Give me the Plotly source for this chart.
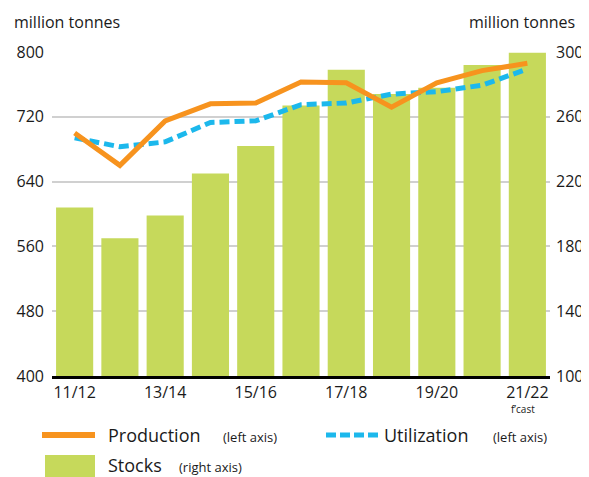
import plotly.graph_objects as go

categories = ["11/12", "12/13", "13/14", "14/15", "15/16", "16/17", "17/18", "18/19", "19/20", "20/21", "21/22"]
tick_labels = ["11/12", "", "13/14", "", "15/16", "", "17/18", "", "19/20", "", "21/22"]
stocks = [204, 185, 199, 225, 242, 267, 289, 274, 278, 292, 299.5]
production = [700, 660, 715, 736, 737, 763, 762, 732, 762, 777, 786]
utilization = [694, 683, 689, 713, 715, 735, 737, 748, 751, 759, 779]

GREEN = "#c6d95b"
ORANGE = "#f7931e"
BLUE = "#1cb8ec"
FONT = "Open Sans"

# The page body adds an 8px offset; the figure is sized so that it fills the window.
OFF = 8
W, H = 589 - OFF, 477 - OFF
L, R, T, B = 52 - OFF, 39, 52 - OFF, 101
PW, PH = W - L - R, H - T - B

def px(x):
    return (x - OFF - L) / PW

def py(y):
    return (H - B - (y - OFF)) / PH

fig = go.Figure()
fig.add_trace(go.Bar(x=categories, y=stocks, marker=dict(color=GREEN, line=dict(width=0)),
                     yaxis="y", name="Stocks", showlegend=False))
fig.add_trace(go.Scatter(x=categories, y=utilization, mode="lines", yaxis="y2",
                         line=dict(color=BLUE, width=5, dash="10px,5px"), name="Utilization", showlegend=False))
fig.add_trace(go.Scatter(x=categories, y=production, mode="lines", yaxis="y2",
                         line=dict(color=ORANGE, width=5), name="Production", showlegend=False))

fig.update_layout(
    width=W, height=H,
    margin=dict(l=L, r=R, t=T, b=B, autoexpand=False),
    paper_bgcolor="white", plot_bgcolor="white",
    font=dict(family=FONT, size=16, color="#1a1a1a"),
    bargap=0.18,
    xaxis=dict(type="category", range=[-0.5, 10.5], tickmode="array",
               tickvals=categories, ticktext=tick_labels, showgrid=False,
               showline=True, linecolor="black", linewidth=3, ticks="",
               tickfont=dict(size=16), ticklabelstandoff=0),
    yaxis=dict(side="right", range=[100, 300], tickvals=[100, 140, 180, 220, 260, 300],
               showgrid=True, gridcolor="#d0d0d0", gridwidth=1.5, zeroline=False,
               ticks="", tickfont=dict(size=16), ticklabelstandoff=5),
    yaxis2=dict(side="left", overlaying="y", range=[400, 800],
                tickvals=[400, 480, 560, 640, 720, 800], showgrid=False, zeroline=False,
                ticks="", tickfont=dict(size=16), ticklabelstandoff=7),
)

annotations = [
    dict(text="million tonnes", x=12, y=22, xanchor="left", size=16),
    dict(text="million tonnes", x=577, y=22, xanchor="right", size=16),
    dict(text="f’cast", x=523, y=409, xanchor="center", size=10),
    dict(text="Production", x=106, y=435, xanchor="left", size=18),
    dict(text="(left axis)", x=221, y=437, xanchor="left", size=13),
    dict(text="Utilization", x=382, y=435, xanchor="left", size=18),
    dict(text="(left axis)", x=491, y=437, xanchor="left", size=13),
    dict(text="Stocks", x=106, y=465, xanchor="left", size=18),
    dict(text="(right axis)", x=177, y=467, xanchor="left", size=13),
]
for a in annotations:
    fig.add_annotation(text=a["text"], xref="paper", yref="paper",
                       x=px(a["x"]), y=py(a["y"]), xanchor=a["xanchor"], yanchor="middle",
                       showarrow=False, font=dict(size=a.get("size", 16), family=FONT, color="#1a1a1a"))

shapes = [
    dict(type="line", x0=px(42), x1=px(95), y0=py(435), y1=py(435),
         line=dict(color=ORANGE, width=6)),
    dict(type="line", x0=px(326), x1=px(378), y0=py(435), y1=py(435),
         line=dict(color=BLUE, width=5, dash="10px,4px")),
    dict(type="rect", x0=px(45), x1=px(95), y0=py(477), y1=py(455),
         fillcolor=GREEN, line=dict(width=0)),
]
for s in shapes:
    fig.add_shape(xref="paper", yref="paper", **s)

fig.write_html("out.html")
